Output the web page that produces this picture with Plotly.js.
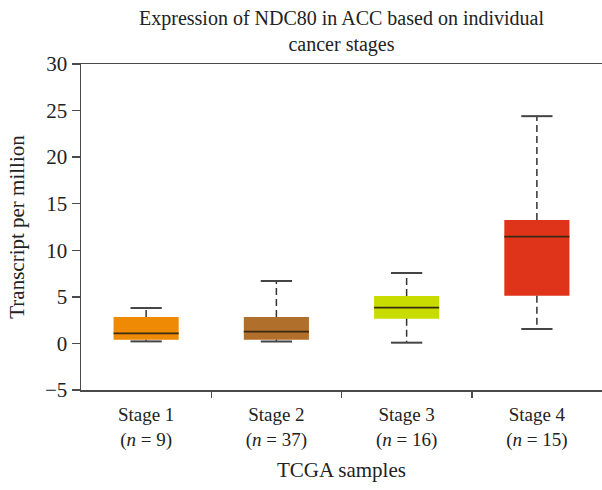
<!DOCTYPE html>
<html>
<head>
<meta charset="utf-8">
<script src="https://cdn.plot.ly/plotly-3.0.1.min.js"></script>
<style>
  html, body { margin: 0; padding: 0; background: #fff; }
  #chart { width: 602px; height: 490px; }
</style>
</head>
<body>
<div id="chart"></div>
<script>
// stage labels and sample counts
var stages = ['Stage 1', 'Stage 2', 'Stage 3', 'Stage 4'];
var counts = [9, 37, 16, 15];

// box statistics (TPM)
var lowerFence = [0.22, 0.22, 0.08, 1.55];
var q1 = [0.40, 0.40, 2.66, 5.13];
var median = [1.08, 1.26, 3.84, 11.46];
var q3 = [2.84, 2.84, 5.09, 13.25];
var upperFence = [3.80, 6.70, 7.56, 24.40];

var boxColors = ['#ef8a05', '#b06f2b', '#c8dc00', '#e0341a'];

var pos = stages.map(function (s, i) { return i; });
var half = 0.25;   // half box width
var cap = 0.12;    // half cap width

function segs(xa, xb, ya, yb) {
  var x = [], y = [];
  for (var i = 0; i < pos.length; i++) {
    x.push(xa[i], xb[i], null);
    y.push(ya[i], yb[i], null);
  }
  return {x: x, y: y};
}

var left = pos.map(function (p) { return p - half; });
var right = pos.map(function (p) { return p + half; });
var capL = pos.map(function (p) { return p - cap; });
var capR = pos.map(function (p) { return p + cap; });

var upperW = segs(pos, pos, q3, upperFence);
var lowerW = segs(pos, pos, q1, lowerFence);
var capsUp = segs(capL, capR, upperFence, upperFence);
var capsLo = segs(capL, capR, lowerFence, lowerFence);
var medLines = segs(left, right, median, median);

var body = {
  type: 'bar',
  x: pos,
  base: q1,
  y: q3.map(function (v, i) { return v - q1[i]; }),
  width: 2 * half,
  marker: {color: boxColors, line: {width: 0}},
  hoverinfo: 'skip'
};

var whiskers = {
  type: 'scatter', mode: 'lines',
  x: upperW.x.concat(lowerW.x),
  y: upperW.y.concat(lowerW.y),
  line: {color: '#333', width: 1.5, dash: '7px,4px'},
  hoverinfo: 'skip'
};

var caps = {
  type: 'scatter', mode: 'lines',
  x: capsUp.x.concat(capsLo.x),
  y: capsUp.y.concat(capsLo.y),
  line: {color: '#444', width: 2},
  hoverinfo: 'skip'
};

var medians = {
  type: 'scatter', mode: 'lines',
  x: medLines.x, y: medLines.y,
  line: {color: '#3a2a12', width: 1.8},
  hoverinfo: 'skip'
};

var tickText = stages.map(function (s, i) {
  return s + '<br>(<i>n</i> = ' + counts[i] + ')';
});

var serif = '"Liberation Serif", "DejaVu Serif", serif';
var font = {family: serif, size: 19, color: '#222'};

var layout = {
  width: 602, height: 490,
  margin: {l: 81, r: 0, t: 64, b: 100},
  paper_bgcolor: '#fff', plot_bgcolor: '#fff',
  showlegend: false,
  font: font,
  title: {
    text: 'Expression of NDC80 in ACC based on individual<br>cancer stages',
    font: {family: serif, size: 20, color: '#222'},
    xref: 'paper', x: 0.5,
    yref: 'container', y: 0.948, yanchor: 'middle'
  },
  xaxis: {
    range: [-0.5, 3.5],
    tickmode: 'array', tickvals: pos, ticktext: tickText,
    ticks: '', showgrid: false, zeroline: false,
    showline: true, linecolor: '#4a4a4a', linewidth: 1.5, mirror: true,
    minor: {tickmode: 'array', tickvals: [0.5, 1.5, 2.5], ticks: 'outside', ticklen: 6, tickcolor: '#4a4a4a', tickwidth: 1.5, showgrid: false},
    tickfont: font,
    ticklabelstandoff: 7,
    title: {text: 'TCGA samples', font: {family: serif, size: 21, color: '#222'}, standoff: 12},
    fixedrange: true
  },
  yaxis: {
    range: [-5, 30], dtick: 5,
    ticks: 'outside', ticklen: 8, tickcolor: '#4a4a4a', tickwidth: 1.5,
    showgrid: false, zeroline: false,
    showline: true, linecolor: '#4a4a4a', linewidth: 1.5,
    tickfont: {family: serif, size: 21, color: '#222'},
    title: {text: 'Transcript per million', font: {family: serif, size: 21, color: '#222'}, standoff: 14},
    fixedrange: true
  }
};

Plotly.newPlot('chart', [body, whiskers, caps, medians], layout, {displayModeBar: false, staticPlot: true});
</script>
</body>
</html>
